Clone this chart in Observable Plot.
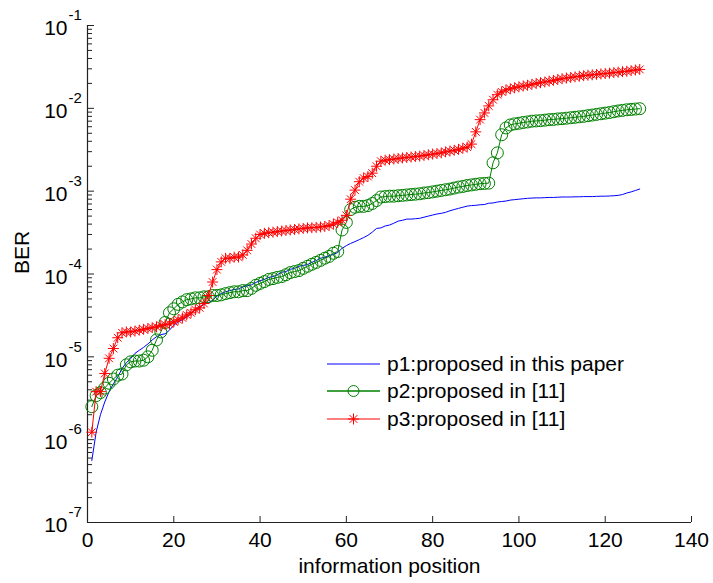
<!DOCTYPE html>
<html>
<head>
<meta charset="utf-8">
<script src="https://cdn.jsdelivr.net/npm/d3@7"></script>
<script src="https://cdn.jsdelivr.net/npm/@observablehq/plot@0.6"></script>
<style>
  html, body { margin: 0; padding: 0; background: #fff; }
  #wrap { position: relative; width: 713px; height: 583px; font-family: "Liberation Sans", Arial, sans-serif; }
  #legend { position: absolute; left: 327px; top: 350px; font-size: 21px; color: #000; }
  #legend .row { display: flex; align-items: center; height: 27.5px; }
  #legend svg { display: block; margin-right: 6px; }
</style>
</head>
<body>
<div id="wrap"></div>
<script>
// information positions 1..128
const positions = d3.range(1, 129);

const seriesNames = ["p1:proposed in this paper", "p2:proposed in [11]", "p3:proposed in [11]"];

const p1 = [
  5.6e-7, 1.23e-6, 2.0e-6, 2.85e-6, 3.8e-6, 4.7e-6, 5.7e-6, 7.2e-6, 8.5e-6, 9.5e-6,
  1.1e-5, 1.2e-5, 1.3e-5, 1.43e-5, 1.6e-5, 1.75e-5, 1.85e-5, 1.9e-5, 2.1e-5, 2.4e-5,
  2.65e-5, 2.8e-5, 3.05e-5, 3.3e-5, 3.7e-5, 4.05e-5, 4.3e-5, 4.5e-5, 4.8e-5, 5.4e-5,
  5.8e-5, 6.1e-5, 6.3e-5, 6.5e-5, 6.6e-5, 7.0e-5, 7.2e-5, 7.4e-5, 7.9e-5, 8.3e-5,
  8.6e-5, 9.1e-5, 9.3e-5, 9.8e-5, 1.05e-4, 1.07e-4, 1.14e-4, 1.17e-4, 1.24e-4, 1.27e-4,
  1.3e-4, 1.38e-4, 1.45e-4, 1.55e-4, 1.59e-4, 1.67e-4, 1.72e-4, 1.82e-4, 2.04e-4, 2.2e-4,
  2.34e-4, 2.46e-4, 2.6e-4, 2.75e-4, 2.93e-4, 3.2e-4, 3.55e-4, 3.6e-4, 3.8e-4, 3.9e-4,
  4.1e-4, 4.35e-4, 4.45e-4, 4.6e-4, 4.6e-4, 4.65e-4, 4.7e-4, 4.85e-4, 5.0e-4, 5.15e-4,
  5.3e-4, 5.4e-4, 5.55e-4, 5.8e-4, 6.0e-4, 6.2e-4, 6.4e-4, 6.6e-4, 6.7e-4, 6.75e-4,
  6.85e-4, 6.9e-4, 7.15e-4, 7.2e-4, 7.4e-4, 7.5e-4, 7.6e-4, 7.8e-4, 7.9e-4, 8.0e-4,
  8.1e-4, 8.2e-4, 8.25e-4, 8.3e-4, 8.3e-4, 8.35e-4, 8.4e-4, 8.4e-4, 8.45e-4, 8.5e-4,
  8.5e-4, 8.5e-4, 8.55e-4, 8.55e-4, 8.6e-4, 8.6e-4, 8.6e-4, 8.65e-4, 8.7e-4, 8.7e-4,
  8.75e-4, 8.8e-4, 8.9e-4, 9.1e-4, 9.5e-4, 9.8e-4, 1.02e-3, 1.06e-3
];

const p2 = [
  2.5e-6, 3.4e-6, 3.7e-6, 4.2e-6, 4.8e-6, 5.4e-6, 6.0e-6, 6.2e-6, 8.0e-6, 8.7e-6,
  8.9e-6, 8.9e-6, 9.1e-6, 1.0e-5, 1.2e-5, 1.6e-5, 2.0e-5, 2.6e-5, 3.4e-5, 3.8e-5,
  4.3e-5, 4.6e-5, 4.9e-5, 5.0e-5, 5.15e-5, 5.15e-5, 5.3e-5, 5.3e-5, 5.5e-5, 5.5e-5,
  5.6e-5, 5.8e-5, 5.95e-5, 6.1e-5, 6.1e-5, 6.3e-5, 6.3e-5, 6.7e-5, 7.3e-5, 7.7e-5,
  8.1e-5, 8.6e-5, 8.8e-5, 9.1e-5, 9.3e-5, 9.8e-5, 1.04e-4, 1.07e-4, 1.1e-4, 1.17e-4,
  1.24e-4, 1.31e-4, 1.38e-4, 1.46e-4, 1.55e-4, 1.63e-4, 1.78e-4, 1.87e-4, 3.4e-4, 4.2e-4,
  6.0e-4, 6.4e-4, 6.55e-4, 6.55e-4, 6.7e-4, 7.1e-4, 7.7e-4, 8.5e-4, 8.6e-4, 8.7e-4,
  8.7e-4, 8.8e-4, 8.9e-4, 9.0e-4, 9.1e-4, 9.2e-4, 9.3e-4, 9.5e-4, 9.6e-4, 9.8e-4,
  1.0e-3, 1.02e-3, 1.04e-3, 1.06e-3, 1.09e-3, 1.12e-3, 1.14e-3, 1.17e-3, 1.19e-3, 1.21e-3,
  1.23e-3, 1.24e-3, 1.25e-3, 2.2e-3, 2.9e-3, 4.8e-3, 5.8e-3, 6.3e-3, 6.5e-3, 6.6e-3,
  6.75e-3, 6.85e-3, 7.0e-3, 7.05e-3, 7.1e-3, 7.2e-3, 7.3e-3, 7.35e-3, 7.45e-3, 7.5e-3,
  7.6e-3, 7.7e-3, 7.8e-3, 7.9e-3, 8.0e-3, 8.15e-3, 8.3e-3, 8.45e-3, 8.6e-3, 8.75e-3,
  8.9e-3, 9.1e-3, 9.3e-3, 9.45e-3, 9.6e-3, 9.7e-3, 9.8e-3, 9.9e-3
];

const p3 = [
  1.23e-6, 3.8e-6, 3.8e-6, 6.3e-6, 9.6e-6, 1.26e-5, 1.7e-5, 1.95e-5, 2.0e-5, 2.0e-5,
  2.05e-5, 2.1e-5, 2.15e-5, 2.2e-5, 2.25e-5, 2.3e-5, 2.4e-5, 2.45e-5, 2.5e-5, 2.65e-5,
  2.8e-5, 2.95e-5, 3.2e-5, 3.4e-5, 3.7e-5, 3.9e-5, 4.4e-5, 5.5e-5, 8.0e-5, 1.13e-4,
  1.4e-4, 1.55e-4, 1.55e-4, 1.6e-4, 1.6e-4, 1.7e-4, 1.93e-4, 2.3e-4, 2.7e-4, 3.0e-4,
  3.1e-4, 3.15e-4, 3.2e-4, 3.25e-4, 3.3e-4, 3.35e-4, 3.4e-4, 3.45e-4, 3.5e-4, 3.55e-4,
  3.6e-4, 3.62e-4, 3.65e-4, 3.7e-4, 3.75e-4, 3.85e-4, 4.0e-4, 4.2e-4, 4.45e-4, 5.1e-4,
  8.0e-4, 1.03e-3, 1.3e-3, 1.44e-3, 1.5e-3, 1.65e-3, 2.0e-3, 2.3e-3, 2.37e-3, 2.4e-3,
  2.44e-3, 2.48e-3, 2.52e-3, 2.55e-3, 2.58e-3, 2.62e-3, 2.65e-3, 2.7e-3, 2.75e-3, 2.8e-3,
  2.85e-3, 2.9e-3, 2.98e-3, 3.05e-3, 3.12e-3, 3.2e-3, 3.3e-3, 3.4e-3, 3.7e-3, 5.2e-3,
  7.3e-3, 8.8e-3, 1.07e-2, 1.27e-2, 1.46e-2, 1.58e-2, 1.67e-2, 1.72e-2, 1.77e-2, 1.82e-2,
  1.86e-2, 1.9e-2, 1.95e-2, 2.0e-2, 2.04e-2, 2.08e-2, 2.13e-2, 2.18e-2, 2.23e-2, 2.28e-2,
  2.32e-2, 2.36e-2, 2.4e-2, 2.44e-2, 2.48e-2, 2.51e-2, 2.54e-2, 2.57e-2, 2.6e-2, 2.63e-2,
  2.66e-2, 2.7e-2, 2.73e-2, 2.77e-2, 2.8e-2, 2.85e-2, 2.9e-2, 2.95e-2
];

const xTicks = [0, 20, 40, 60, 80, 100, 120, 140];
const yExponents = [-7, -6, -5, -4, -3, -2, -1];

const colors = { p1: "#0000ff", p2: "#008000", p3: "#ff0000" };

const d1 = positions.map((x, i) => ({ x, y: p1[i] }));
const d2 = positions.map((x, i) => ({ x, y: p2[i] }));
const d3s = positions.map((x, i) => ({ x, y: p3[i] }));

const yMajor = yExponents.map(e => Math.pow(10, e));
const yMinor = [];
for (const e of yExponents.slice(0, -1)) for (let m = 2; m <= 9; m++) yMinor.push(m * Math.pow(10, e));

const W = 713, H = 583, mL = 87, mR = 22, mT = 25, mB = 61;
const fw = W - mL - mR, fh = H - mT - mB;

const chart = Plot.plot({
  width: W, height: H,
  marginLeft: mL, marginRight: mR, marginTop: mT, marginBottom: mB,
  style: { fontFamily: '"Liberation Sans", Arial, sans-serif', fontSize: "21px", background: "#fff", color: "#000", overflow: "visible" },
  x: { domain: [0, 140], axis: null },
  y: { type: "log", domain: [1e-7, 1e-1], axis: null },
  marks: [
    // inward tick marks
    Plot.tickY(yMajor, { y: d => d, insetRight: fw - 7, stroke: "#222", strokeWidth: 1 }),
    Plot.tickY(yMinor, { y: d => d, insetRight: fw - 5, stroke: "#222", strokeWidth: 1 }),
    Plot.tickX(xTicks, { x: d => d, insetTop: fh - 6, stroke: "#222", strokeWidth: 1 }),
    // axis lines
    Plot.ruleX([0], { stroke: "#222", strokeWidth: 1.2 }),
    Plot.ruleY([1e-7], { stroke: "#222", strokeWidth: 1.2 }),
    // x tick labels
    Plot.axisX(xTicks, { tickSize: 0, tickPadding: 10, fontSize: 21, tickFormat: d => String(d), label: null }),
    // y tick labels 10^e
    Plot.text(yExponents, { y: e => Math.pow(10, e), text: () => "10", frameAnchor: "left", textAnchor: "end", dx: -20, dy: 3, fontSize: 21, fill: "#000" }),
    Plot.text(yExponents, { y: e => Math.pow(10, e), text: e => String(e), frameAnchor: "left", textAnchor: "start", dx: -19, dy: -10, fontSize: 15, fill: "#000" }),
    // axis titles
    Plot.text(["BER"], { text: d => d, frameAnchor: "left", rotate: -90, dx: -65, fontSize: 21, fill: "#000" }),
    Plot.text(["information position"], { text: d => d, frameAnchor: "bottom", dy: 50, fontSize: 21, fill: "#000" }),
    // series
    Plot.line(d1, { x: "x", y: "y", stroke: colors.p1, strokeWidth: 1 }),
    Plot.line(d2, { x: "x", y: "y", stroke: colors.p2, strokeWidth: 1 }),
    Plot.dot(d2, { x: "x", y: "y", r: 6, stroke: colors.p2, fill: "none", strokeWidth: 1 }),
    Plot.line(d3s, { x: "x", y: "y", stroke: colors.p3, strokeWidth: 1 }),
    Plot.dot(d3s, { x: "x", y: "y", symbol: "plus", r: 3.6, stroke: colors.p3, fill: "none", strokeWidth: 1 }),
    Plot.dot(d3s, { x: "x", y: "y", symbol: "times", r: 3.6, stroke: colors.p3, fill: "none", strokeWidth: 1 })
  ]
});

const wrap = document.getElementById("wrap");
wrap.appendChild(chart);

// legend
const legend = document.createElement("div");
legend.id = "legend";
const ns = "http://www.w3.org/2000/svg";
const markers = ["none", "circle", "asterisk"];
const cols = [colors.p1, colors.p2, colors.p3];
seriesNames.forEach((name, i) => {
  const row = document.createElement("div");
  row.className = "row";
  const svg = document.createElementNS(ns, "svg");
  svg.setAttribute("width", 54); svg.setAttribute("height", 16);
  const ln = document.createElementNS(ns, "line");
  ln.setAttribute("x1", 0); ln.setAttribute("x2", 53); ln.setAttribute("y1", 8); ln.setAttribute("y2", 8);
  ln.setAttribute("stroke", cols[i]); ln.setAttribute("stroke-width", i === 1 ? 1.5 : 1);
  svg.appendChild(ln);
  if (markers[i] === "circle") {
    const c = document.createElementNS(ns, "circle");
    c.setAttribute("cx", 26.5); c.setAttribute("cy", 8); c.setAttribute("r", 5.5);
    c.setAttribute("fill", "none"); c.setAttribute("stroke", cols[i]);
    svg.appendChild(c);
  } else if (markers[i] === "asterisk") {
    const p = document.createElementNS(ns, "path");
    p.setAttribute("d", "M21,8H32M26.5,2.5V13.5M22.6,4.1L30.4,11.9M22.6,11.9L30.4,4.1");
    p.setAttribute("fill", "none"); p.setAttribute("stroke", cols[i]);
    svg.appendChild(p);
  }
  row.appendChild(svg);
  const t = document.createElement("span");
  t.textContent = name;
  row.appendChild(t);
  legend.appendChild(row);
});
wrap.appendChild(legend);
</script>
</body>
</html>
